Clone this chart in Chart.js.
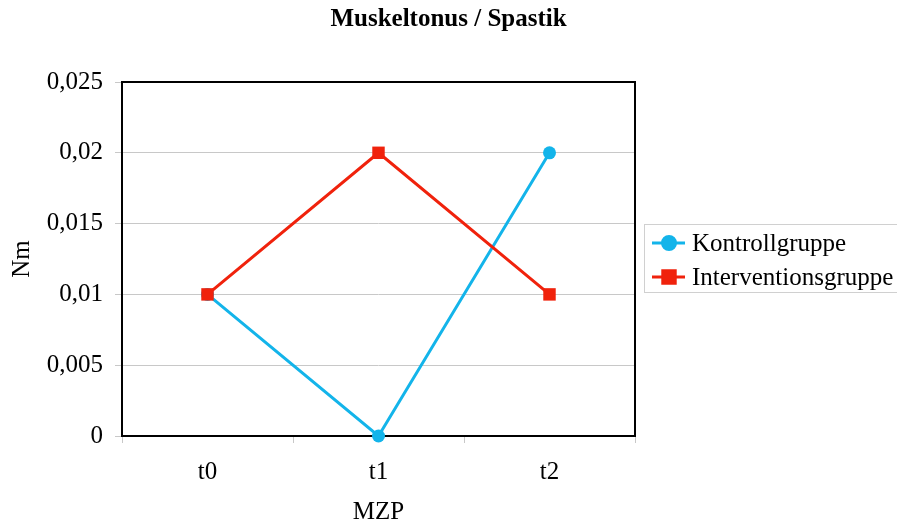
<!DOCTYPE html>
<html>
<head>
<meta charset="utf-8">
<script src="https://cdn.jsdelivr.net/npm/chart.js@4/dist/chart.umd.min.js"></script>
<style>
  html, body { margin: 0; padding: 0; background: #fff; }
  #wrap { width: 897px; height: 524px; }
</style>
</head>
<body>
<div id="wrap"><canvas id="c" width="897" height="524"></canvas></div>
<script>
// Messzeitpunkte und Mittelwerte (Nm)
const categories = ['t0', 't1', 't2'];
const kontrollgruppe = [0.01, 0, 0.02];
const interventionsgruppe = [0.01, 0.02, 0.01];
const yTickLabels = ['0', '0,005', '0,01', '0,015', '0,02', '0,025'];

const FONT = "'Liberation Serif', 'Times New Roman', serif";
const FS = 25;
const BLUE = '#13B4EA';
const RED = '#F0220C';

const canvas = document.getElementById('c');

// Rahmen um die Zeichenfläche
const frame = {
  id: 'frame',
  beforeDatasetsDraw(chart) {
    const a = chart.chartArea, ctx = chart.ctx;
    ctx.save();
    ctx.strokeStyle = '#000';
    ctx.lineWidth = 2;
    ctx.strokeRect(a.left, a.top, a.right - a.left, a.bottom - a.top);
    ctx.restore();
  }
};

// Legende rechts neben dem Diagramm
const sideLegend = {
  id: 'sideLegend',
  afterDraw(chart) {
    const ctx = chart.ctx;
    const x0 = 644, y0 = 224, w = 260, h = 68;
    ctx.save();
    ctx.strokeStyle = '#d0d0d0';
    ctx.lineWidth = 1;
    ctx.strokeRect(x0 + 0.5, y0 + 0.5, w, h);
    chart.data.datasets.forEach((ds, i) => {
      const y = y0 + 19 + i * 34;
      ctx.strokeStyle = ds.borderColor;
      ctx.lineWidth = 3;
      ctx.beginPath();
      ctx.moveTo(652, y);
      ctx.lineTo(685, y);
      ctx.stroke();
      Chart.helpers.drawPoint(ctx, {
        pointStyle: ds.pointStyle, radius: ds.pointRadius, borderWidth: 1
      }, 669, y);
      ctx.fillStyle = ds.borderColor;
      ctx.fill();
      ctx.fillStyle = '#000';
      ctx.font = FS + 'px ' + FONT;
      ctx.textBaseline = 'middle';
      ctx.textAlign = 'left';
      ctx.fillText(ds.label, 692, y + 1);
    });
    ctx.restore();
  }
};

new Chart(canvas, {
  type: 'line',
  data: {
    labels: categories,
    datasets: [
      {
        label: 'Kontrollgruppe',
        data: kontrollgruppe,
        borderColor: BLUE,
        backgroundColor: BLUE,
        borderWidth: 3,
        pointStyle: 'circle',
        pointRadius: 6.5,
        pointBorderWidth: 0,
        tension: 0,
        clip: false,
        order: 1
      },
      {
        label: 'Interventionsgruppe',
        data: interventionsgruppe,
        borderColor: RED,
        backgroundColor: RED,
        borderWidth: 3,
        pointStyle: 'rect',
        pointRadius: 8.8,
        pointBorderWidth: 0,
        tension: 0,
        clip: false,
        order: 0
      }
    ]
  },
  options: {
    responsive: false,
    animation: false,
    layout: { padding: 0 },
    plugins: {
      legend: { display: false },
      tooltip: { enabled: false },
      title: {
        display: true,
        text: 'Muskeltonus / Spastik',
        color: '#000',
        font: { family: FONT, size: FS, weight: 'bold', lineHeight: 1.2 },
        padding: { top: 5, bottom: 47 }
      }
    },
    scales: {
      x: {
        offset: true,
        grid: {
          offset: true,
          drawOnChartArea: false,
          drawTicks: true,
          tickLength: 7,
          color: '#c8c8c8'
        },
        border: { display: false },
        ticks: { color: '#000', font: { family: FONT, size: FS }, padding: 14, autoSkip: false, maxRotation: 0 },
        title: {
          display: true,
          text: 'MZP',
          color: '#000',
          font: { family: FONT, size: FS },
          padding: { top: 0, bottom: -3 }
        },
        afterFit(s) { s.height = 88; }
      },
      y: {
        min: 0,
        max: 0.025,
        ticks: {
          stepSize: 0.005,
          color: '#000',
          font: { family: FONT, size: FS },
          padding: 12,
          callback: (v, i) => yTickLabels[i]
        },
        grid: { color: '#c8c8c8', tickLength: 7, lineWidth: 1 },
        border: { display: false },
        title: {
          display: true,
          text: 'Nm',
          color: '#000',
          font: { family: FONT, size: FS },
          padding: { top: 7, bottom: 0 }
        },
        afterFit(s) { s.width = 122; }
      },
      // freier Streifen rechts für die Legende
      legendSpace: {
        type: 'linear',
        position: 'right',
        display: true,
        grid: { display: false, drawTicks: false },
        ticks: { display: false },
        border: { display: false },
        afterFit(s) { s.width = 262; }
      }
    }
  },
  plugins: [frame, sideLegend]
});
</script>
</body>
</html>
